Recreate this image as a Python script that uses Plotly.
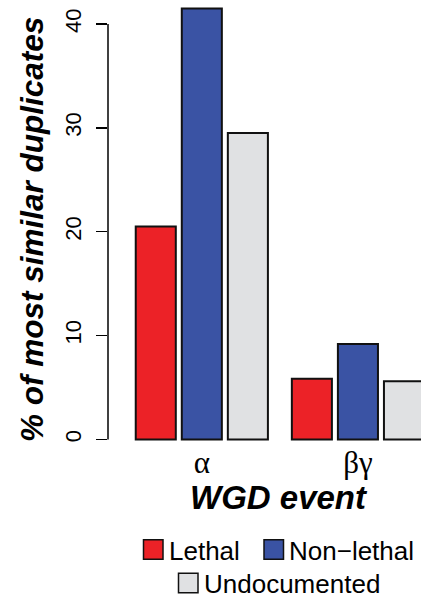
import plotly.graph_objects as go

# ---- data ----
events = ["α", "βγ"]
series_names = ["Lethal", "Non−lethal", "Undocumented"]
lethal = [20.5, 5.85]
non_lethal = [41.5, 9.2]
undocumented = [29.5, 5.6]
y_ticks = [0, 10, 20, 30, 40]
colors = ["#EC2227", "#3A53A4", "#E0E1E3"]
x_title = "WGD event"
y_title = "% of most similar duplicates"

values = [lethal, non_lethal, undocumented]

W, H = 421, 598
ML, MR, MT = 108, 0, 0
PH = 441
MB = H - MT - PH
PW = W - ML - MR


def px(x):
    return (x - ML) / PW


def py(y):
    return (MT + PH - y) / PH


fig = go.Figure()
for name, vals, col in zip(series_names, values, colors):
    fig.add_trace(go.Bar(
        x=events, y=vals, name=name,
        marker=dict(color=col, line=dict(color="#111111", width=2)),
        showlegend=False,
    ))

shapes = []
annotations = []

# y axis line only across the tick range (R style)
shapes.append(dict(type="line", xref="paper", yref="y", x0=0, x1=0,
                   y0=y_ticks[0], y1=y_ticks[-1],
                   line=dict(color="black", width=1.5)))

# axis titles
annotations.append(dict(text="<b><i>" + y_title + "</i></b>", xref="paper", yref="paper",
                        x=px(32), y=py(230), xanchor="center", yanchor="middle",
                        textangle=-90, showarrow=False,
                        font=dict(family="Liberation Sans, Arial", size=31.5, color="black")))
annotations.append(dict(text="<b><i>" + x_title + "</i></b>", xref="paper", yref="paper",
                        x=px(279), y=py(497), xanchor="center", yanchor="middle",
                        showarrow=False,
                        font=dict(family="Liberation Sans, Arial", size=33, color="black")))

# manual legend (two rows, centered)
legend_items = [
    (series_names[0], colors[0], 143.5, 170, 549.5),
    (series_names[1], colors[1], 264, 290, 549.5),
    (series_names[2], colors[2], 178.5, 205, 583),
]
sq = 19.5
for name, col, sx, tx, cy in legend_items:
    shapes.append(dict(type="rect", xref="paper", yref="paper",
                       x0=px(sx), x1=px(sx + sq), y0=py(cy - sq / 2), y1=py(cy + sq / 2),
                       fillcolor=col, line=dict(color="#111111", width=1.5)))
    annotations.append(dict(text=name, xref="paper", yref="paper",
                            x=px(tx - 3), y=py(cy + 1), xanchor="left", yanchor="middle",
                            showarrow=False,
                            font=dict(family="Liberation Sans, Arial", size=26, color="black")))

fig.update_layout(
    width=W, height=H,
    margin=dict(l=ML, r=MR, t=MT, b=MB, pad=0),
    paper_bgcolor="white", plot_bgcolor="white",
    barmode="group", bargap=0.115, bargroupgap=0.13,
    shapes=shapes, annotations=annotations,
    showlegend=False,
)
fig.update_xaxes(
    range=[-0.601, 1.404], showline=False, showgrid=False, zeroline=False,
    ticks="", tickfont=dict(family="Liberation Serif, DejaVu Serif", size=31, color="black"),
    fixedrange=True,
)
fig.update_yaxes(
    range=[-0.15, 42.31], showline=False, showgrid=False, zeroline=False,
    tickmode="array", tickvals=y_ticks, ticktext=[str(v) for v in y_ticks],
    ticks="outside", ticklen=11, tickwidth=1.5, tickcolor="black",
    tickangle=-90, ticklabelstandoff=6,
    tickfont=dict(family="Liberation Sans, Arial", size=22, color="black"),
    fixedrange=True,
)

page_fix = ("document.body.style.margin='0';"
            "document.body.style.overflow='hidden';"
            "document.documentElement.style.overflow='hidden';")
fig.write_html("out.html", post_script=page_fix,
               config={"displayModeBar": False, "staticPlot": True})
